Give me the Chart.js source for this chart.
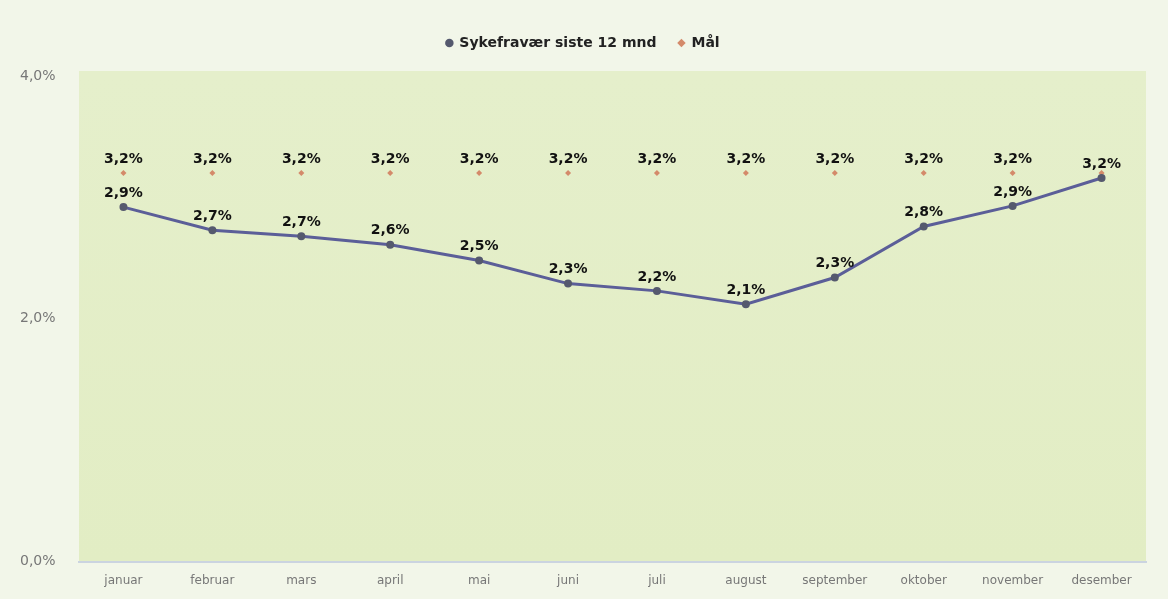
<!DOCTYPE html>
<html>
<head>
<meta charset="utf-8">
<script src="https://cdn.jsdelivr.net/npm/chart.js@4"></script>
<style>
  body { margin: 0; background: #f2f6e9; }
  #wrap { width: 1168px; height: 599px; }
</style>
</head>
<body>
<div id="wrap"><canvas id="lineChart"></canvas></div>
<script>
const months = ['januar', 'februar', 'mars', 'april', 'mai', 'juni', 'juli', 'august', 'september', 'oktober', 'november', 'desember'];
const sykefravaer = [2.92, 2.73, 2.68, 2.61, 2.48, 2.29, 2.23, 2.12, 2.34, 2.76, 2.93, 3.16];
const maal = [3.2, 3.2, 3.2, 3.2, 3.2, 3.2, 3.2, 3.2, 3.2, 3.2, 3.2, 3.2];
const yTicks = [0, 2, 4];

const FONT = 'Verdana, "DejaVu Sans", sans-serif';

function pct(v) {
    return v.toFixed(1).replace('.', ',') + '%';
}

// green plot background
const plotBg = {
    id: 'plotBg',
    beforeDraw(chart) {
        const a = chart.chartArea;
        const c = chart.ctx;
        const g = c.createLinearGradient(0, a.top, 0, a.bottom);
        g.addColorStop(0, '#e5efcb');
        g.addColorStop(1, '#e2edc4');
        c.save();
        c.fillStyle = g;
        c.fillRect(a.left, a.top - 5, a.right - a.left, a.bottom - a.top + 5);
        c.restore();
    }
};

// extra room under the legend
const legendSpace = {
    id: 'legendSpace',
    beforeInit(chart) {
        const fit = chart.legend.fit;
        chart.legend.fit = function () {
            fit.bind(chart.legend)();
            this.height += 16;
        };
    }
};

// value labels above points
const valueLabels = {
    id: 'valueLabels',
    afterDatasetsDraw(chart) {
        const c = chart.ctx;
        const main = chart.getDatasetMeta(0).data;
        c.save();
        c.font = 'bold 14px ' + FONT;
        c.fillStyle = '#111';
        c.textAlign = 'center';
        c.textBaseline = 'bottom';
        chart.data.datasets.forEach((ds, i) => {
            chart.getDatasetMeta(i).data.forEach((pt, j) => {
                if (i === 1 && Math.abs(main[j].y - pt.y) < 12) return;
                c.fillText(pct(ds.data[j]), pt.x, pt.y - 7);
            });
        });
        c.restore();
    }
};

const ctx = document.getElementById('lineChart');
new Chart(ctx, {
    type: 'line',
    data: {
        labels: months,
        datasets: [{
            label: 'Sykefravær siste 12 mnd',
            data: sykefravaer,
            borderColor: '#5b5e98',
            backgroundColor: '#5a5e72',
            borderWidth: 3,
            pointRadius: 4,
            pointBorderWidth: 0,
            pointBackgroundColor: '#55596e',
            tension: 0
        }, {
            label: 'Mål',
            data: maal,
            showLine: false,
            borderColor: '#d48a6a',
            backgroundColor: '#d48a6a',
            pointStyle: 'rectRot',
            pointRadius: 3,
            pointBorderWidth: 0
        }]
    },
    options: {
        responsive: true,
        maintainAspectRatio: false,
        animation: false,
        layout: { padding: { top: 14, right: 22, bottom: 7, left: 20 } },
        plugins: {
            legend: {
                position: 'top',
                labels: {
                    usePointStyle: true,
                    boxWidth: 6,
                    boxHeight: 6,
                    padding: 22,
                    color: '#222',
                    font: { family: FONT, size: 14, weight: 'bold' }
                }
            },
            tooltip: { enabled: false }
        },
        scales: {
            x: {
                offset: true,
                grid: { display: false },
                border: { display: true, color: '#cbd4e0', width: 2 },
                ticks: {
                    color: '#777',
                    padding: 4,
                    font: { family: FONT, size: 12 }
                }
            },
            y: {
                min: 0,
                max: 4,
                afterBuildTicks(axis) {
                    axis.ticks = yTicks.map(v => ({ value: v }));
                },
                afterFit(axis) { axis.width = 59; },
                grid: { display: false },
                border: { display: false },
                ticks: {
                    color: '#777',
                    crossAlign: 'far',
                    padding: 10,
                    font: { family: FONT, size: 14 },
                    callback: v => pct(v)
                }
            }
        }
    },
    plugins: [plotBg, legendSpace, valueLabels]
});
</script>
</body>
</html>
